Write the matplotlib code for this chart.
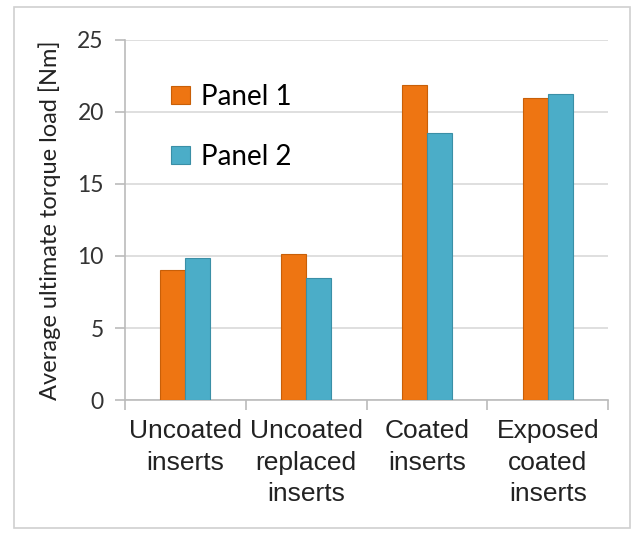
import matplotlib.pyplot as plt
import numpy as np
from matplotlib.patches import Rectangle

categories = ["Uncoated\ninserts", "Uncoated\nreplaced\ninserts", "Coated\ninserts", "Exposed\ncoated\ninserts"]
panel1 = [9.0, 10.15, 21.85, 21.0]
panel2 = [9.85, 8.45, 18.55, 21.25]
yticks = [0, 5, 10, 15, 20, 25]

orange = '#EE7512'
blue = '#4BADC8'

fig = plt.figure(figsize=(6.33, 5.33), dpi=100)
ax = fig.add_axes([0.197, 0.2495, 0.764, 0.6755])

x = np.arange(len(categories))
w = 0.207
ax.bar(x - w/2, panel1, w, color=orange, edgecolor='#C85F08', linewidth=0.8, label='Panel 1', zorder=3)
ax.bar(x + w/2, panel2, w, color=blue, edgecolor='#3A8FA6', linewidth=0.8, label='Panel 2', zorder=3)

ax.set_xlim(-0.5, 3.5)
ax.set_ylim(0, 25)
ax.set_yticks(yticks)
ax.set_yticklabels([str(v) for v in yticks], fontsize=16.5, family='Lato', color='#333333')
ax.yaxis.grid(True, color='#D9D9D9', linewidth=1.2, zorder=0)

ax.set_xticks(x)
ax.set_xticklabels(categories, fontsize=19, family='Liberation Sans', linespacing=1.38, color='#222222')
ax.tick_params(axis='x', which='major', length=0, pad=14)
ax.set_xticks(np.arange(-0.5, 4, 1), minor=True)
ax.tick_params(axis='x', which='minor', length=7, color='#BBBBBB', width=1.2)
ax.tick_params(axis='y', length=7, color='#BBBBBB', width=1.2, pad=8)

for s in ['top', 'right']:
    ax.spines[s].set_visible(False)
for s in ['left', 'bottom']:
    ax.spines[s].set_color('#BBBBBB')
    ax.spines[s].set_linewidth(1.2)

ax.set_ylabel('Average ultimate torque load [Nm]', fontsize=17, family='Lato', color='#222222', labelpad=12)

leg = ax.legend(loc='upper left', bbox_to_anchor=(0.045, 0.948), frameon=False,
                prop={'family': 'Lato', 'size': 20}, handlelength=0.65, handleheight=0.65,
                handletextpad=0.4, labelspacing=1.22)

fig.patches.append(Rectangle((0.022, 0.0094), 0.973, 0.977, transform=fig.transFigure,
                             fill=False, edgecolor='#D0D0D0', linewidth=1.2))

fig.savefig('out.png', dpi=100)
